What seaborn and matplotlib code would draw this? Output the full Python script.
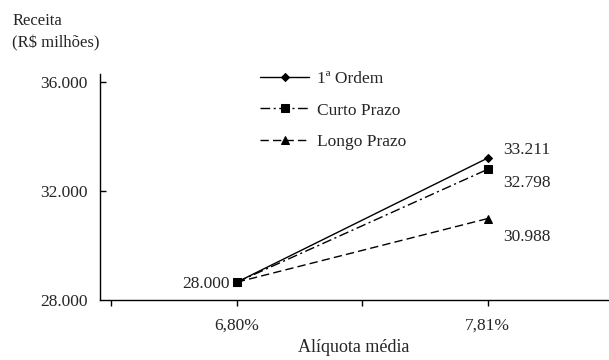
import matplotlib
matplotlib.use("Agg")
import matplotlib.pyplot as plt
import seaborn as sns
import pandas as pd

# ---- data ----
series = ["1ª Ordem", "Curto Prazo", "Longo Prazo"]
x_labels = ["6,80%", "7,81%"]
start_values = [28650, 28650, 28650]      # plotted position of the common start point
end_values = [33211, 32798, 30988]
end_labels = ["33.211", "32.798", "30.988"]
start_label = "28.000"
y_ticks = [28000, 32000, 36000]
y_tick_labels = ["28.000", "32.000", "36.000"]

x_pos = [1, 2]
rows = []
for s, v0, v1 in zip(series, start_values, end_values):
    rows.append({"serie": s, "x": x_pos[0], "receita": v0})
    rows.append({"serie": s, "x": x_pos[1], "receita": v1})
df = pd.DataFrame(rows)

sns.set_theme(style="white")
plt.rcParams["font.family"] = ["Liberation Serif", "DejaVu Serif"]
plt.rcParams["font.size"] = 12.5

FS = 12.5

fig = plt.figure(figsize=(6.09, 3.6), dpi=100)
ax = fig.add_axes([0.164, 0.167, 0.834, 0.627])

markers = {series[0]: "D", series[1]: "s", series[2]: "^"}
dashes = {series[0]: "", series[1]: (7, 2.5, 1.5, 2.5), series[2]: (6, 3)}
palette = {s: "black" for s in series}

sns.lineplot(data=df, x="x", y="receita", hue="serie", style="serie",
             markers=markers, dashes=dashes, palette=palette,
             linewidth=1.0, markersize=6, markeredgecolor="black",
             ax=ax, legend=True)

for line in ax.get_lines():
    if line.get_marker() == "D":
        line.set_markersize(4.5)

handles, labels = ax.get_legend_handles_labels()
for h in handles:
    if h.get_marker() == "D":
        h.set_markersize(4.5)
ax.legend(handles, labels, loc="upper left", bbox_to_anchor=(0.302, 1.045),
          frameon=False, handlelength=2.8, labelspacing=0.88, fontsize=FS,
          handletextpad=0.5, borderaxespad=0)

# data labels
for v, lab, dy in zip(end_values, end_labels, [6, -10, -13]):
    ax.annotate(lab, (x_pos[1], v), xytext=(11, dy), textcoords="offset points",
                ha="left", va="center", fontsize=FS)
ax.annotate(start_label, (x_pos[0], start_values[0]), xytext=(-5, -1),
            textcoords="offset points", ha="right", va="center", fontsize=FS)

ax.set_xlim(0.454, 2.478)
ax.set_ylim(28000, 36290)
ax.set_xticks([0.5, 1, 1.5, 2])
ax.set_xticklabels(["", x_labels[0], "", x_labels[1]])
ax.set_yticks(y_ticks)
ax.set_yticklabels(y_tick_labels)
ax.tick_params(axis="x", direction="out", length=4, width=1, color="black",
               bottom=True, pad=9, labelsize=FS)
ax.tick_params(axis="y", direction="in", length=4, width=1, color="black",
               left=True, pad=9, labelsize=FS)
ax.yaxis.get_major_ticks()[0].tick1line.set_visible(False)

for sp in ["top", "right"]:
    ax.spines[sp].set_visible(False)
for sp in ["left", "bottom"]:
    ax.spines[sp].set_color("black")
    ax.spines[sp].set_linewidth(1.0)

ax.set_xlabel("Alíquota média", fontsize=13, labelpad=4)
ax.set_ylabel("")
fig.text(0.02, 0.963, "Receita\n(R$ milhões)", ha="left", va="top", fontsize=12,
         linespacing=1.5)

fig.savefig("out.png", dpi=100)
